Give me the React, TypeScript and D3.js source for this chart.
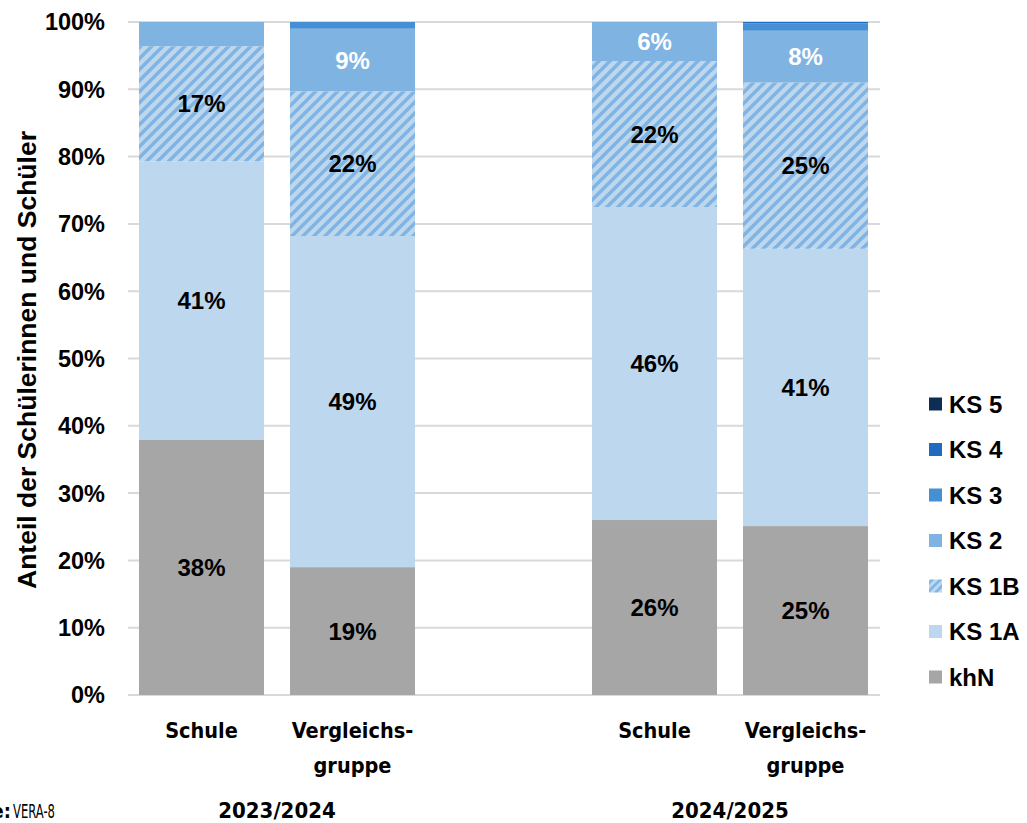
import React from "react";
import * as d3 from "d3";

const levels = ["khN", "KS 1A", "KS 1B", "KS 2", "KS 3", "KS 4", "KS 5"];
const colors = ["#A6A6A6", "#BDD7EE", "url(#hatch)", "#7FB3E1", "#4590D5", "#1E6BBF", "#0D2D56"];
const legendColors = ["#A6A6A6", "#BDD7EE", "url(#hatchL)", "#7FB3E1", "#4590D5", "#1E6BBF", "#0D2D56"];
const labelColors = ["#000", "#000", "#000", "#fff", "#fff", "#fff", "#fff"];

const bars = ["s23", "v23", "s24", "v24"];
const barNames = [["Schule"], ["Vergleichs-", "gruppe"], ["Schule"], ["Vergleichs-", "gruppe"]];
const years = ["2023/2024", "2024/2025"];

const khN = [37.9, 19.0, 26.0, 25.1];
const ks1A = [41.4, 49.2, 46.5, 41.2];
const ks1B = [17.1, 21.5, 21.7, 24.7];
const ks2 = [3.6, 9.3, 5.8, 7.7];
const ks3 = [0, 1.0, 0, 1.1];
const ks4 = [0, 0, 0, 0.2];
const ks5 = [0, 0, 0, 0];
const shownLabels = [
  ["38%", "41%", "17%", "", "", "", ""],
  ["19%", "49%", "22%", "9%", "", "", ""],
  ["26%", "46%", "22%", "6%", "", "", ""],
  ["25%", "41%", "25%", "8%", "", "", ""],
];
const yTicks = [0, 10, 20, 30, 40, 50, 60, 70, 80, 90, 100];

const series = [khN, ks1A, ks1B, ks2, ks3, ks4, ks5];

export default function App() {
  const x0 = 128, x1 = 880, yTop = 22, yBot = 695;
  const y = d3.scaleLinear().domain([0, 100]).range([yBot, yTop]);
  const xBand = d3.scaleOrdinal<string, number>().domain(bars).range([139, 290, 592, 743]);
  const bw = 125;
  const data = bars.map((b, i) => {
    const o: any = { bar: b };
    levels.forEach((l, j) => (o[l] = series[j][i]));
    return o;
  });
  const stack = d3.stack<any>().keys(levels)(data);
  const font = "'Liberation Sans', Arial, sans-serif";
  const condensed = "'DejaVu Sans Condensed', 'Liberation Sans Narrow', 'Open Sans', sans-serif";
  return (
    <svg width={1027} height={823} style={{ position: "absolute", left: 0, top: 0, background: "#fff" }}>
      <defs>
        <pattern id="hatch" patternUnits="userSpaceOnUse" width="11" height="11">
          <rect width="11" height="11" fill="#BDD7EE" />
          <path d="M-3,3 L3,-3 M0,11 L11,0 M8,14 L14,8" stroke="#80B4E2" strokeWidth="3.4" />
        </pattern>
        <pattern id="hatchL" patternUnits="userSpaceOnUse" width="8" height="8">
          <rect width="8" height="8" fill="#BDD7EE" />
          <path d="M-2,2 L2,-2 M0,8 L8,0 M6,10 L10,6" stroke="#80B4E2" strokeWidth="2.6" />
        </pattern>
      </defs>
      {yTicks.map((t) => (
        <g key={t}>
          <line x1={x0} x2={x1} y1={y(t)} y2={y(t)} stroke="#D9D9D9" strokeWidth={2} />
          <text x={105} y={y(t)} dy="0.36em" textAnchor="end" fontFamily={font} fontWeight="bold" fontSize={23.5}>
            {t}%
          </text>
        </g>
      ))}
      {stack.map((s, j) =>
        s.map((d, i) => {
          const h = y(d[0]) - y(d[1]);
          if (h <= 0) return null;
          return (
            <rect key={`${j}-${i}`} x={xBand(bars[i])} width={bw} y={y(d[1])} height={h} fill={colors[j]} />
          );
        })
      )}
      {stack.map((s, j) =>
        s.map((d, i) => {
          const lab = shownLabels[i][j];
          if (!lab) return null;
          return (
            <text
              key={`l${j}-${i}`}
              x={xBand(bars[i]) + bw / 2}
              y={(y(d[0]) + y(d[1])) / 2}
              dy="0.36em"
              textAnchor="middle"
              fontFamily={font}
              fontWeight="bold"
              fontSize={24}
              fill={labelColors[j]}
            >
              {lab}
            </text>
          );
        })
      )}
      {barNames.map((n, i) => (
        <text key={`c${i}`} x={xBand(bars[i]) + bw / 2} y={738} textAnchor="middle" fontFamily={condensed} fontWeight="bold" fontSize={21.5}>
          {n.map((line, k) => (
            <tspan key={k} x={xBand(bars[i]) + bw / 2} dy={k === 0 ? 0 : 35}>
              {line}
            </tspan>
          ))}
        </text>
      ))}
      {years.map((yr, i) => (
        <text key={yr} x={i === 0 ? 277 : 730} y={818} textAnchor="middle" fontFamily={condensed} fontWeight="bold" fontSize={22}>
          {yr}
        </text>
      ))}
      <text x={11} y={818} textAnchor="end" fontFamily={condensed} fontWeight="bold" fontSize={20}>
        Quelle:
      </text>
      <text x={13} y={818} fontFamily={condensed} fontSize={20} textLength={42} lengthAdjust="spacingAndGlyphs">
        VERA-8
      </text>
      <text transform="translate(36,360) rotate(-90)" textAnchor="middle" fontFamily={font} fontWeight="bold" fontSize={26.5}>
        Anteil der Schülerinnen und Schüler
      </text>
      {levels
        .slice()
        .reverse()
        .map((l, k) => {
          const idx = levels.length - 1 - k;
          const cy = 404 + k * 45.5;
          return (
            <g key={l}>
              <rect x={929} y={cy - 6.5} width={13} height={13} fill={legendColors[idx]} />
              <text x={949} y={cy} dy="0.36em" fontFamily={font} fontWeight="bold" fontSize={24}>
                {l}
              </text>
            </g>
          );
        })}
    </svg>
  );
}
